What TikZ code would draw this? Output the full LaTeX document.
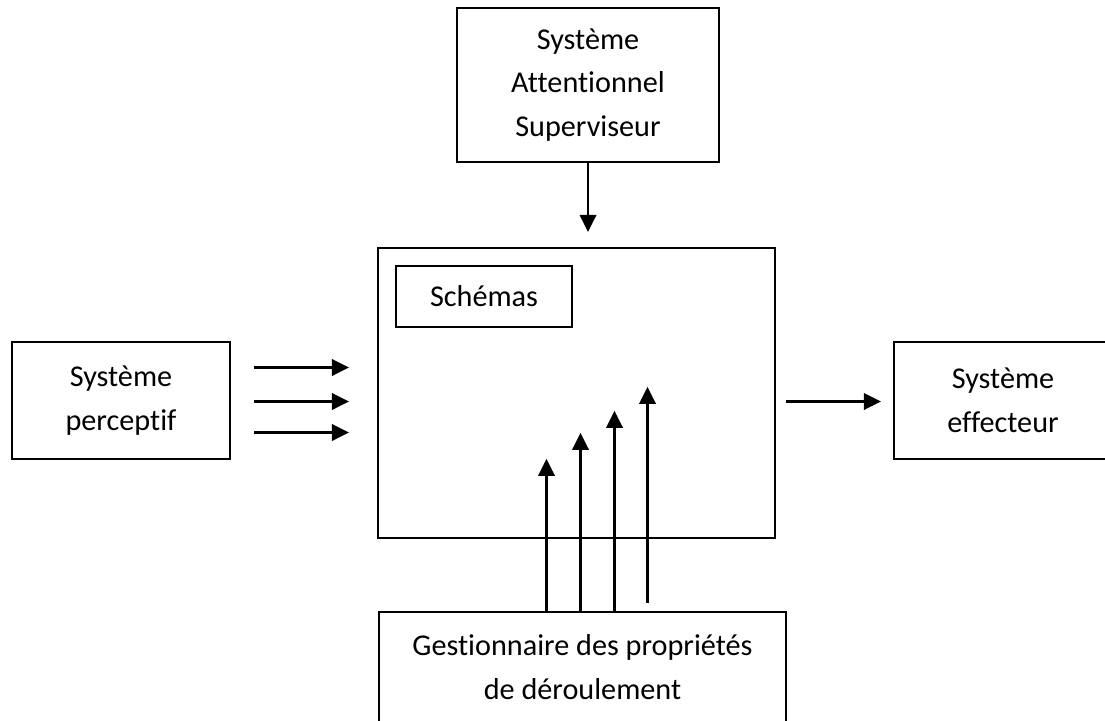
\documentclass[tikz,border=0pt]{standalone}
\usepackage{fontspec}
\setmainfont[Ligatures={NoCommon,NoRare,NoContextual}]{Carlito}
\usetikzlibrary{arrows.meta,calc}

\begin{document}
\begin{tikzpicture}[x=0.02cm,y=-0.02cm,
         font=\fontsize{17.2}{24.8}\selectfont,
         box/.style={draw,line width=1.3pt,align=center,inner sep=0pt},
         arr/.style={-{Triangle[length=3.4mm,width=3.3mm]},line width=1.3pt}]
         \useasboundingbox (0,0) rectangle (1105,720);
         \clip (0,0) rectangle (1105,720);
         \node[box,minimum width=5.24cm,minimum height=3.08cm] (S) at (588,85)
              {Système\\Attentionnel\\Superviseur};
         \node[box,minimum width=7.94cm,minimum height=5.8cm] (M) at (576.5,393) {};
         \node[box,minimum width=3.52cm,minimum height=1.22cm] (Sc) at (484,296.5) {Schémas};
         \node[box,minimum width=4.36cm,minimum height=2.34cm] (P) at (121,400.5)
              {Système\\perceptif};
         \node[box,minimum width=4.36cm,minimum height=2.34cm] (E) at (1003,400.5)
              {Système\\effecteur};
         \node[box,minimum width=8.14cm,minimum height=2.2cm] (G) at (582.5,667)
              {Gestionnaire des propriétés\\de déroulement};
         \draw[arr] (S.south) -- ([yshift=0.3cm]S.south |- M.north);
         \foreach \dy in {-33,1,32}
           \draw[arr] ($(P.east)+(23,\dy)$) -- ($(M.west |- P.east)+(-28,\dy)$);
         \draw[arr] ($(M.east |- E.west)+(10,1)$) -- ($(E.west)+(-12,1)$);
         \foreach \dx/\ya/\gap in {-36/460/0,-2/434/0,32/412/0,65/388/8}
           \draw[arr] ($(G.north)+(\dx,-\gap)$) -- ($(G.north)+(\dx,\ya-612)$);
\end{tikzpicture}
\end{document}
